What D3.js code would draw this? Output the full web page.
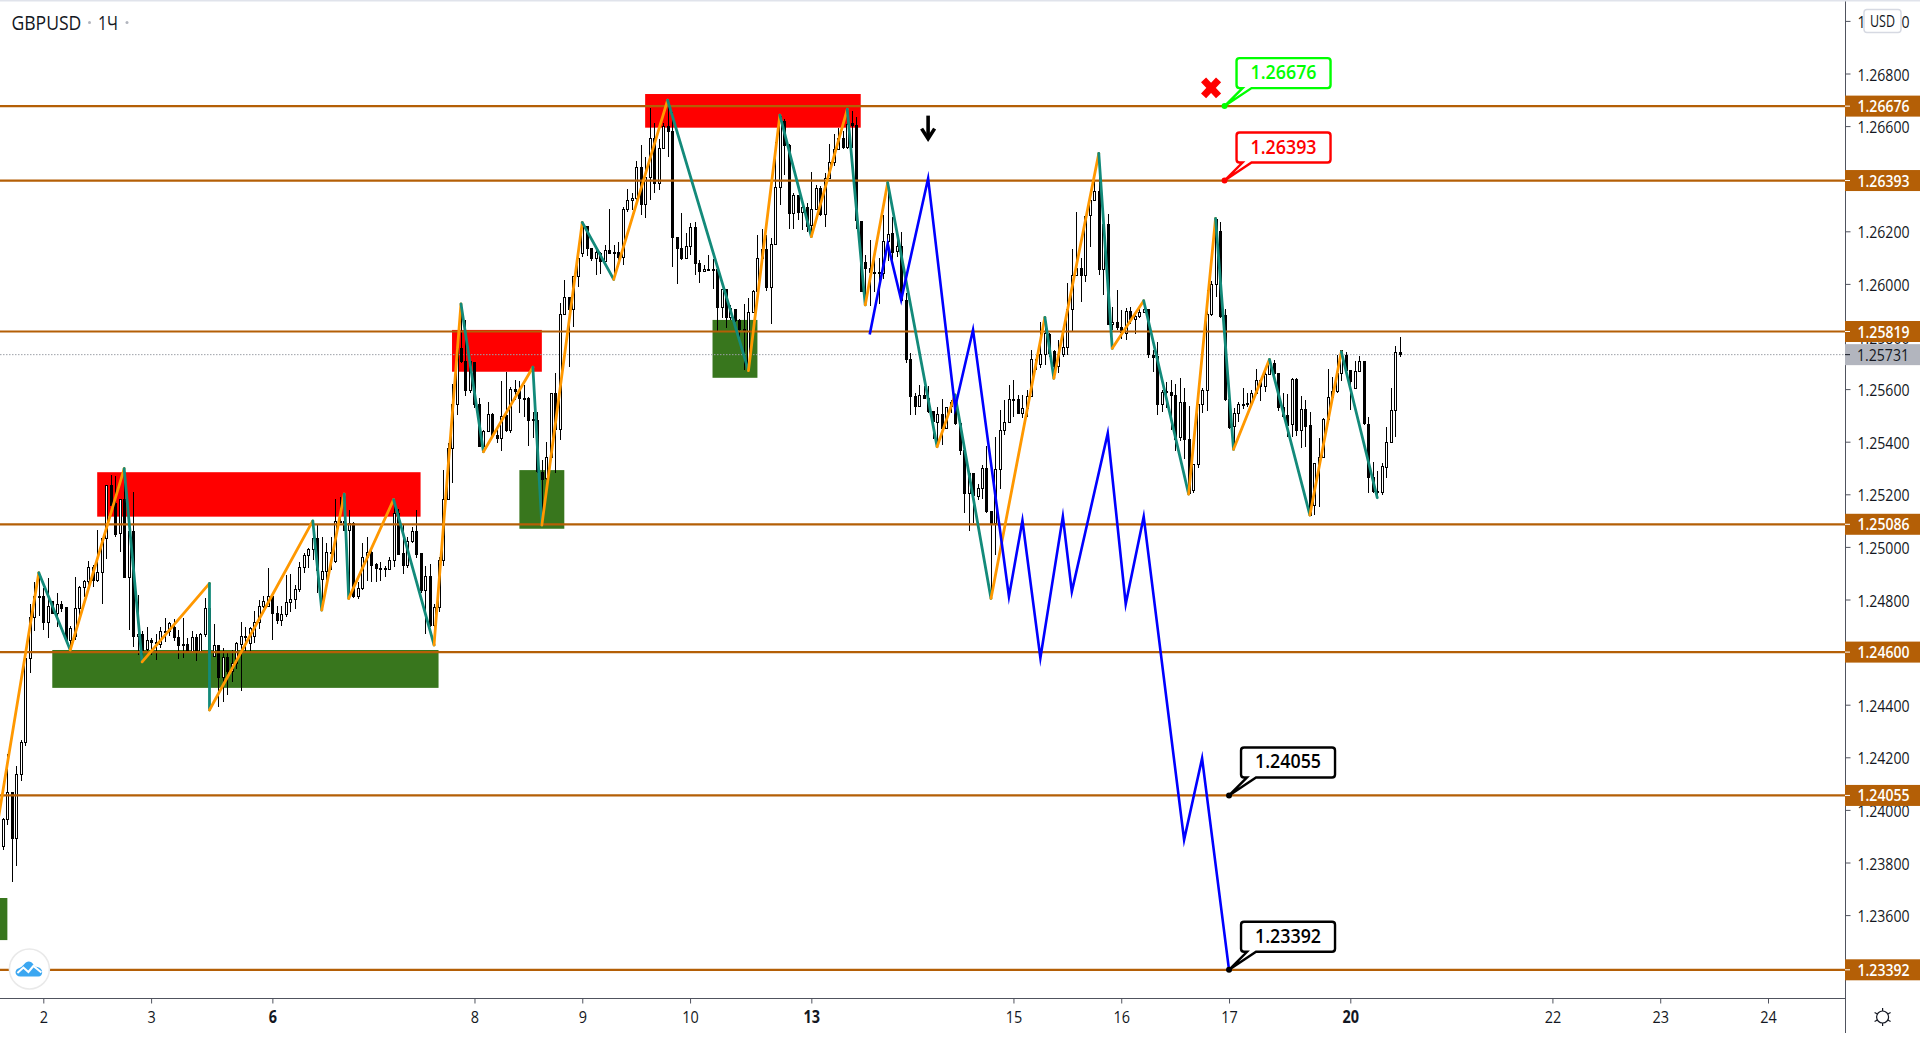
<!DOCTYPE html>
<html>
<head>
<meta charset="utf-8">
<title>GBPUSD</title>
<script src="https://cdn.jsdelivr.net/npm/d3@7"></script>
<style>
html, body { margin: 0; padding: 0; background: #fff; overflow: hidden; }
svg { display: block; }
text { font-family: "Open Sans", sans-serif; }
</style>
</head>
<body>
<svg id="chart" width="1920" height="1038"></svg>
<script>
// candles: quotes are points above 1.0 (25731 = 1.25731), first bar is index -9
var firstBar = -9
var opens = [
23860,23964,24066,23891,24135,24255,24575,24732,24813,24813,
24712,24791,24747,24782,24770,24643,24658,24766,24845,24869,
24922,24874,24902,25031,25234,25165,25051,25180,24884,25060,
24658,24668,24608,24644,24635,24629,24676,24679,24692,24657,
24629,24629,24601,24656,24600,24666,24766,24582,24625,24502,
24581,24528,24557,24630,24660,24633,24658,24712,24772,24772,
24813,24747,24719,24743,24788,24800,24838,24922,24966,24990,
25032,24876,24907,24979,24943,25098,25098,25061,25089,24810,
24841,24960,24979,24933,24919,24918,24914,24948,25127,24975,
24928,25019,25059,24975,24836,24888,24700,24771,24947,25181,
25375,25542,25755,25704,25594,25702,25542,25381,25439,25505,
25422,25413,25498,25442,25599,25593,25565,25565,25485,25482,
25284,25261,25339,25584,25445,25884,25949,25903,26030,26116,
26220,26135,26097,26116,26085,26128,26120,26120,26101,26284,
26318,26325,26443,26303,26404,26553,26382,26515,26598,26579,
26177,26135,26096,26141,26215,26078,26048,26055,26055,26053,
25911,25977,25872,25903,25859,25827,25679,25892,25970,26097,
26129,25986,26150,26367,26617,26526,26267,26337,26271,26291,
26221,26283,26363,26263,26401,26462,26512,26553,26518,26608,
26604,26238,26082,26059,26045,26044,26039,26161,26190,26122,
26144,25938,25713,25571,25533,25575,25565,25514,25472,25504,
25450,25550,25565,25470,25366,25204,25280,25191,25223,25299,
25134,25090,25295,25442,25474,25562,25561,25508,25527,25571,
25713,25692,25730,25809,25742,25685,25731,25759,25903,26033,
26059,26031,26261,26319,26351,26053,26224,25847,25854,25835,
25812,25896,25865,25875,25891,25903,25726,25723,25542,25589,
25588,25575,25417,25550,25409,25214,25314,25542,25595,25882,
25998,26201,25878,25562,25457,25507,25543,25547,25546,25584,
25632,25609,25656,25698,25660,25531,25498,25466,25638,25442,
25523,25460,25158,25315,25341,25486,25569,25590,25660,25726,
25671,25603,25666,25706,25467,25263,25211,25208,25303,25398,
25519,25739]
var highs = [
23968,24212,24069,24166,24265,24582,24782,24866,24902,24842,
24881,24794,24823,24794,24772,24699,24885,24851,24874,24946,
24931,25064,25033,25237,25273,25269,25184,25298,25060,25207,
24817,24680,24694,24653,24668,24694,24729,24713,24724,24684,
24729,24652,24680,24668,24673,24805,24861,24706,24628,24614,
24606,24608,24640,24713,24696,24696,24756,24798,24813,24919,
24815,24775,24775,24893,24897,24855,24943,24975,24994,25102,
25083,25036,25016,25038,25182,25191,25102,25142,25096,24867,
25013,25036,24988,24937,24943,24927,24960,25178,25146,25083,
25036,25076,25140,24978,24928,24935,24782,24962,25294,25394,
25619,25787,25924,25863,25698,25704,25565,25445,25550,25510,
25445,25631,25666,25609,25635,25631,25616,25571,25514,25512,
25331,25398,25586,25660,25929,26015,25951,26030,26104,26234,
26222,26137,26135,26120,26148,26284,26148,26161,26291,26361,
26344,26467,26528,26484,26668,26611,26550,26611,26699,26655,
26180,26268,26192,26230,26234,26091,26072,26110,26093,26055,
25981,25979,25920,25905,25865,25924,25945,25977,26186,26207,
26186,26173,26541,26642,26626,26531,26344,26338,26304,26306,
26424,26376,26372,26420,26532,26570,26591,26581,26664,26657,
26636,26240,26110,26167,26110,26097,26262,26385,26253,26188,
26199,25964,25736,25584,25616,25612,25612,25517,25531,25564,
25533,25560,25578,25472,25368,25282,25282,25239,25311,25384,
25138,25417,25521,25559,25616,25635,25578,25578,25597,25749,
25730,25856,25856,25812,25749,25787,25818,26002,26131,26275,
26097,26262,26351,26395,26496,26262,26266,25913,25977,25901,
25907,25911,25888,25907,25939,25905,25749,25780,25597,25628,
25635,25619,25642,25603,25536,25316,25543,25603,25977,26011,
26249,26234,25903,25565,25527,25552,25605,25586,25597,25676,
25635,25685,25713,25711,25662,25586,25581,25641,25642,25575,
25559,25514,25318,25413,25489,25676,25647,25730,25748,25742,
25673,25707,25727,25707,25495,25324,25290,25320,25455,25605,
25765,25797]
var lows = [
23847,23942,23727,23786,24110,24243,24521,24681,24737,24684,
24654,24744,24696,24752,24644,24608,24646,24734,24810,24842,
24848,24866,24782,24955,25159,25038,24981,24883,24684,24620,
24589,24570,24597,24589,24570,24616,24639,24661,24643,24573,
24578,24597,24598,24566,24599,24658,24380,24580,24392,24411,
24436,24487,24535,24453,24601,24601,24633,24689,24766,24770,
24646,24706,24700,24734,24751,24763,24829,24902,24918,24950,
24823,24757,24874,24912,24940,25093,25060,24818,24804,24803,
24838,24871,24867,24866,24871,24886,24912,24924,24970,24896,
24918,25013,24956,24823,24668,24696,24627,24753,24927,25178,
25242,25502,25698,25574,25584,25527,25381,25362,25437,25422,
25394,25366,25438,25432,25559,25510,25495,25385,25413,25282,
25083,25256,25335,25280,25406,25882,25683,25837,25987,26104,
26107,26088,26034,26038,26082,26115,26021,26066,26072,26275,
26281,26319,26262,26252,26319,26347,26357,26512,26484,26065,
25999,26091,26093,26110,26034,26005,26046,26050,25981,25818,
25869,25831,25863,25856,25799,25673,25666,25888,25968,26091,
25974,25847,26148,26300,26414,26209,26209,26243,26205,26199,
26180,26281,26259,26218,26399,26448,26509,26513,26513,26515,
26207,25970,25920,25916,25970,25924,26019,26087,26088,26104,
25932,25698,25502,25502,25531,25561,25508,25411,25381,25387,
25447,25508,25464,25349,25128,25062,25090,25178,25181,25128,
24804,24969,25219,25426,25470,25495,25508,25489,25495,25569,
25673,25679,25692,25723,25647,25662,25723,25730,25818,26030,
25931,26009,26142,26316,26034,25958,25844,25825,25825,25789,
25787,25847,25809,25869,25888,25717,25666,25502,25514,25527,
25444,25366,25404,25333,25201,25206,25301,25508,25518,25878,
25949,25869,25555,25447,25368,25476,25523,25531,25543,25581,
25556,25590,25654,25635,25518,25495,25417,25417,25422,25375,
25381,25121,25121,25153,25338,25482,25559,25586,25632,25666,
25521,25600,25664,25463,25204,25206,25185,25197,25261,25394,
25419,25723]
var closes = [
23964,24066,23891,24135,24256,24576,24732,24813,24811,24712,
24775,24745,24781,24767,24646,24690,24766,24846,24869,24922,
24874,24904,25031,25234,25159,25049,25180,24883,25057,24658,
24667,24601,24644,24635,24638,24677,24679,24708,24656,24624,
24624,24600,24656,24600,24668,24766,24601,24625,24502,24580,
24528,24557,24633,24660,24657,24690,24712,24775,24793,24813,
24745,24719,24743,24788,24800,24838,24922,24967,24990,25033,
24909,24907,24979,24975,25097,25095,25061,25089,24810,24842,
24960,24979,24931,24917,24917,24916,24948,25127,24973,24928,
25019,25059,24973,24836,24888,24700,24771,24947,25180,25375,
25542,25755,25704,25594,25704,25542,25381,25439,25505,25425,
25412,25495,25442,25599,25590,25565,25562,25480,25481,25286,
25258,25341,25584,25445,25884,25949,25901,26030,26097,26230,
26135,26096,26119,26085,26126,26115,26116,26100,26284,26318,
26325,26443,26303,26404,26553,26382,26515,26598,26579,26177,
26135,26096,26144,26215,26078,26046,26055,26052,26052,25911,
25977,25872,25907,25860,25825,25822,25892,25972,26097,26129,
25986,26150,26367,26638,26526,26267,26337,26271,26291,26220,
26283,26363,26264,26401,26462,26512,26553,26518,26607,26602,
26240,25972,26058,26043,26041,26039,26162,26187,26121,26142,
25936,25711,25571,25533,25574,25564,25514,25476,25504,25451,
25531,25533,25470,25366,25204,25280,25194,25223,25299,25134,
25087,25295,25442,25474,25561,25560,25508,25527,25571,25713,
25708,25730,25812,25736,25685,25730,25759,25903,26033,26059,
26031,26256,26319,26351,26053,26224,25847,25854,25834,25815,
25896,25865,25875,25892,25903,25730,25722,25542,25588,25586,
25575,25409,25550,25409,25204,25314,25543,25595,25882,25998,
26243,25875,25562,25455,25508,25540,25538,25542,25584,25633,
25609,25656,25698,25660,25531,25495,25463,25637,25442,25523,
25457,25121,25318,25341,25485,25569,25590,25660,25745,25669,
25628,25666,25706,25470,25263,25210,25206,25304,25398,25519,
25739,25731]

// zigzag pivots, the first leg goes up and then they alternate
var zigBars = [-10,-1,6,18,22,37,37,60,62,67,68,78,87,93,98,109,111,120,127,139,157,164,171,179,183,188,199,203,211,223,225,235,238,245,255,261,265,273,282,289,297]
var zigQuotes = [23968,24902,24608,25298,24563,24861,24380,25099,24760,25201,24804,25180,24627,25924,25362,25683,25083,26234,26017,26699,25670,26642,26180,26664,25920,26385,25381,25578,24804,25873,25641,26496,25755,25936,25201,26249,25371,25713,25121,25742,25187]

// blue forecast path
var blueBars = [184,188,191,197,203,207,215,218,222,227,229,237,241,245,254,258,264]
var blueQuotes = [25808,26152,25939,26401,25530,25825,24811,25100,24578,25115,24830,25432,24783,25115,23886,24196,23392]

// supply and demand zones
var zoneFrom = [12,2,91,106,134,149,-10]
var zoneTo = [84,88,111,116,182,159,-8]
var zoneTop = [25284,24608,25825,25292,26722,25863,23665]
var zoneBottom = [25115,24464,25666,25069,26594,25643,23505]
var zoneColor = ["#ff0000","#38761d","#ff0000","#38761d","#ff0000","#38761d","#38761d"]

// horizontal levels
var levels = [1.26676,1.26393,1.25819,1.25086,1.24600,1.24055,1.23392]
var lastPrice = 1.25731
var priceTicks = [1.27,1.268,1.266,1.264,1.262,1.26,1.258,1.256,1.254,1.252,1.25,1.248,1.246,1.244,1.242,1.24,1.238,1.236]

// date axis
var dayBars = [0,24,51,96,120,144,171,216,240,264,291,336,360,384]
var dayLabels = ["2","3","6","8","9","10","13","15","16","17","20","22","23","24"]
var boldDays = ["6","13","20"]

// callouts
var calloutBars = [263,263,264,264]
var calloutPrices = [1.26676,1.26393,1.24055,1.23392]
var calloutTexts = ["1.26676","1.26393","1.24055","1.23392"]
var calloutColors = ["#00ff00","#ff0000","#000000","#000000"]

var x = d3.scaleLinear().domain([0, 384]).range([43.3, 1768])
var y = d3.scaleLinear().domain([1.27, 1.236]).range([20.9, 915.1])
var quote = function(v) { return 1 + v / 100000 }
var priceY = function(v) { return y(quote(v)) }

var paneW = 1845, paneH = 998.5
var svg = d3.select("#chart")
svg.append("clipPath").attr("id", "pane").append("rect").attr("width", paneW).attr("height", paneH)
var pane = svg.append("g").attr("clip-path", "url(#pane)")

// zones
pane.append("g").selectAll("rect").data(zoneFrom).join("rect")
    .attr("x", function(d) { return x(d) })
    .attr("width", function(d, i) { return x(zoneTo[i]) - x(d) })
    .attr("y", function(d, i) { return priceY(zoneTop[i]) })
    .attr("height", function(d, i) { return priceY(zoneBottom[i]) - priceY(zoneTop[i]) })
    .attr("fill", function(d, i) { return zoneColor[i] })

// last price dotted line
pane.append("line")
    .attr("x1", 0).attr("x2", paneW)
    .attr("y1", y(lastPrice)).attr("y2", y(lastPrice))
    .attr("stroke", "#9ea1a8").attr("stroke-dasharray", "1.5 1.5")

// candles
var candle = pane.append("g").selectAll("g").data(opens).join("g")
    .attr("shape-rendering", "crispEdges")
    .attr("transform", function(d, i) { return "translate(" + (Math.round(x(i + firstBar)) + 0.5) + ",0)" })
candle.append("line")
    .attr("y1", function(d, i) { return priceY(highs[i]) })
    .attr("y2", function(d, i) { return priceY(lows[i]) })
    .attr("stroke", "#000")
candle.append("rect")
    .attr("x", -1)
    .attr("width", 2)
    .attr("y", function(d, i) { return Math.min(priceY(d), priceY(closes[i])) })
    .attr("height", function(d, i) { return Math.max(1, Math.abs(priceY(d) - priceY(closes[i]))) })
    .attr("stroke", "#000")
    .attr("fill", function(d, i) { return closes[i] > d ? "#fff" : "#000" })

// levels
pane.append("g").selectAll("line").data(levels).join("line")
    .attr("x1", 0).attr("x2", paneW)
    .attr("y1", function(d) { return y(d) }).attr("y2", function(d) { return y(d) })
    .attr("stroke", "#b45f06").attr("stroke-width", 2.2)

// zigzag, orange up and teal down
pane.append("g").selectAll("line").data(zigBars.slice(1)).join("line")
    .attr("x1", function(d, i) { return x(zigBars[i]) })
    .attr("y1", function(d, i) { return priceY(zigQuotes[i]) })
    .attr("x2", function(d) { return x(d) })
    .attr("y2", function(d, i) { return priceY(zigQuotes[i + 1]) })
    .attr("stroke", function(d, i) { return i % 2 == 0 ? "#ff9800" : "#138a7a" })
    .attr("stroke-width", 2.8)
    .attr("stroke-linecap", "round")

// forecast
var blueLine = d3.line()
    .x(function(d) { return x(d) })
    .y(function(d, i) { return priceY(blueQuotes[i]) })
pane.append("path").datum(blueBars)
    .attr("d", blueLine)
    .attr("fill", "none").attr("stroke", "#0000ff").attr("stroke-width", 2.6)
    .attr("stroke-miterlimit", 20)

// sell arrow and red cross
var arrow = pane.append("g").attr("transform", "translate(" + x(197) + "," + priceY(26541) + ")")
arrow.append("line").attr("y1", -26).attr("y2", -4).attr("stroke", "#000").attr("stroke-width", 3.6)
arrow.append("path").attr("d", "M-6.5,-13 L0,-3 L6.5,-13").attr("fill", "none").attr("stroke", "#000").attr("stroke-width", 3.6)
var cross = pane.append("g").attr("transform", "translate(" + x(260) + "," + priceY(26745) + ")")
cross.append("path").attr("d", "M-7.5,-8 L7.5,8 M7.5,-8 L-7.5,8").attr("stroke", "#ff0000").attr("stroke-width", 7)

// callouts
var callout = pane.append("g").selectAll("g").data(calloutBars).join("g")
    .attr("transform", function(d, i) { return "translate(" + x(d) + "," + y(calloutPrices[i]) + ")" })
callout.append("path")
    .attr("d", "M0,0 L18,-18 L15,-18 Q12,-18 12,-21 L12,-45 Q12,-48 15,-48 L103,-48 Q106,-48 106,-45 L106,-21 Q106,-18 103,-18 L27,-18 Z")
    .attr("fill", "#fff")
    .attr("stroke", function(d, i) { return calloutColors[i] })
    .attr("stroke-width", 2.4)
callout.append("circle").attr("r", 3).attr("fill", function(d, i) { return calloutColors[i] })
callout.append("text")
    .attr("x", 59).attr("y", -27)
    .attr("text-anchor", "middle")
    .attr("font-size", 19).attr("font-weight", 600)
    .attr("textLength", 66).attr("lengthAdjust", "spacingAndGlyphs")
    .attr("fill", function(d, i) { return calloutColors[i] })
    .text(function(d, i) { return calloutTexts[i] })

// tradingview logo
var logo = svg.append("g").attr("transform", "translate(29.4,969)")
logo.append("circle").attr("r", 20).attr("fill", "#fff").attr("stroke", "#e9e9e9").attr("stroke-width", 1.5)
logo.append("path").attr("d", "M-9,7.5 C-15,7.5 -15.5,0 -10,-1 C-8,-2 -7,-3 -5,-5 C-3,-8.5 2,-8.5 4,-4.5 C5,-2.5 6,-2.5 8,-2 C14.5,-1 14,7.5 9,7.5 Z").attr("fill", "#3ba7f1")
logo.append("path").attr("d", "M-12,4 L-6,-1.5 L-1,3 L4,-3 L12,3.5").attr("fill", "none").attr("stroke", "#fff").attr("stroke-width", 2)

// axis panes
svg.append("line").attr("x1", paneW + 0.5).attr("x2", paneW + 0.5).attr("y1", 0).attr("y2", 1033)
    .attr("stroke", "#50535e").attr("stroke-width", 1)
svg.append("line").attr("x1", 0).attr("x2", paneW).attr("y1", paneH).attr("y2", paneH)
    .attr("stroke", "#50535e").attr("stroke-width", 1)
svg.append("rect").attr("width", 1920).attr("height", 1.5).attr("fill", "#e0e3eb")

var priceAxis = d3.axisRight(y).tickValues(priceTicks).tickSize(5).tickSizeOuter(0)
    .tickFormat(function(d) { return d3.format(".5f")(d) })
var priceAxisG = svg.append("g").attr("transform", "translate(" + (paneW + 0.5) + ",0)").call(priceAxis)
priceAxisG.select(".domain").remove()
priceAxisG.selectAll("line").attr("stroke", "#50535e")
priceAxisG.selectAll("text")
    .attr("x", 38).attr("y", 1.2).attr("text-anchor", "middle")
    .attr("font-family", '"Open Sans", sans-serif').attr("font-size", 17)
    .attr("textLength", 52).attr("lengthAdjust", "spacingAndGlyphs")
    .attr("fill", "#131722")

var dateAxis = d3.axisBottom(x).tickValues(dayBars).tickSize(5).tickSizeOuter(0)
    .tickFormat(function(d, i) { return dayLabels[i] })
var dateAxisG = svg.append("g").attr("transform", "translate(0," + paneH + ")").call(dateAxis)
dateAxisG.select(".domain").remove()
dateAxisG.selectAll("line").attr("stroke", "#50535e")
dateAxisG.selectAll("text")
    .attr("y", 12)
    .attr("font-family", '"Open Sans", sans-serif').attr("font-size", 17)
    .attr("font-weight", function(d, i) { return boldDays.indexOf(dayLabels[i]) >= 0 ? 700 : 400 })
    .attr("fill", "#131722")
    .attr("transform", "scale(0.85,1)")

// price tags
var tag = svg.append("g").selectAll("g").data(levels).join("g")
    .attr("transform", function(d) { return "translate(" + paneW + "," + y(d) + ")" })
tag.append("rect").attr("y", -10.5).attr("width", 75).attr("height", 21).attr("fill", "#b45f06")
tag.append("line").attr("x1", 0).attr("x2", 5).attr("stroke", "#fff")
tag.append("text")
    .attr("x", 38.5).attr("y", 6)
    .attr("text-anchor", "middle")
    .attr("font-size", 17).attr("font-weight", 600)
    .attr("textLength", 52).attr("lengthAdjust", "spacingAndGlyphs")
    .attr("fill", "#fff")
    .text(function(d) { return d3.format(".5f")(d) })

var lastTag = svg.append("g").attr("transform", "translate(" + paneW + "," + y(lastPrice) + ")")
lastTag.append("rect").attr("y", -10.5).attr("width", 75).attr("height", 21).attr("fill", "#b2b5be")
lastTag.append("line").attr("x1", 0).attr("x2", 5).attr("stroke", "#131722")
lastTag.append("text")
    .attr("x", 38).attr("y", 6)
    .attr("text-anchor", "middle")
    .attr("font-size", 17)
    .attr("textLength", 52).attr("lengthAdjust", "spacingAndGlyphs")
    .attr("fill", "#131722")
    .text(d3.format(".5f")(lastPrice))

// currency badge
svg.append("rect").attr("x", 1864).attr("y", 9.5).attr("width", 37).attr("height", 23).attr("rx", 3)
    .attr("fill", "#fff").attr("stroke", "#d6d9e2").attr("stroke-width", 1.4)
svg.append("text").attr("x", 1882.5).attr("y", 26.5).attr("text-anchor", "middle")
    .attr("font-size", 16.5).attr("textLength", 25).attr("lengthAdjust", "spacingAndGlyphs")
    .attr("fill", "#131722").text("USD")

// settings gear
var gear = svg.append("g").attr("transform", "translate(1882.6,1017)")
    .attr("fill", "none").attr("stroke", "#131722").attr("stroke-width", 1.2)
gear.append("circle").attr("r", 6)
gear.append("path").attr("d", "M0,-9 V-6 M0,6 V9 M-8,-4.5 L-5.2,-3 M5.2,3 L8,4.5 M-8,4.5 L-5.2,3 M5.2,-3 L8,-4.5")

// title
var titleFont = 20
svg.append("text").attr("x", 11.4).attr("y", 29.5).attr("font-size", titleFont)
    .attr("textLength", 70).attr("lengthAdjust", "spacingAndGlyphs")
    .attr("fill", "#131722").text("GBPUSD")
svg.append("text").attr("x", 98).attr("y", 29.5).attr("font-size", titleFont)
    .attr("textLength", 20).attr("lengthAdjust", "spacingAndGlyphs")
    .attr("fill", "#131722").text("1Ч")
svg.append("circle").attr("cx", 89.5).attr("cy", 22.5).attr("r", 1.5).attr("fill", "#b2b5be")
svg.append("circle").attr("cx", 127).attr("cy", 22.5).attr("r", 1.5).attr("fill", "#b2b5be")
</script>
</body>
</html>
